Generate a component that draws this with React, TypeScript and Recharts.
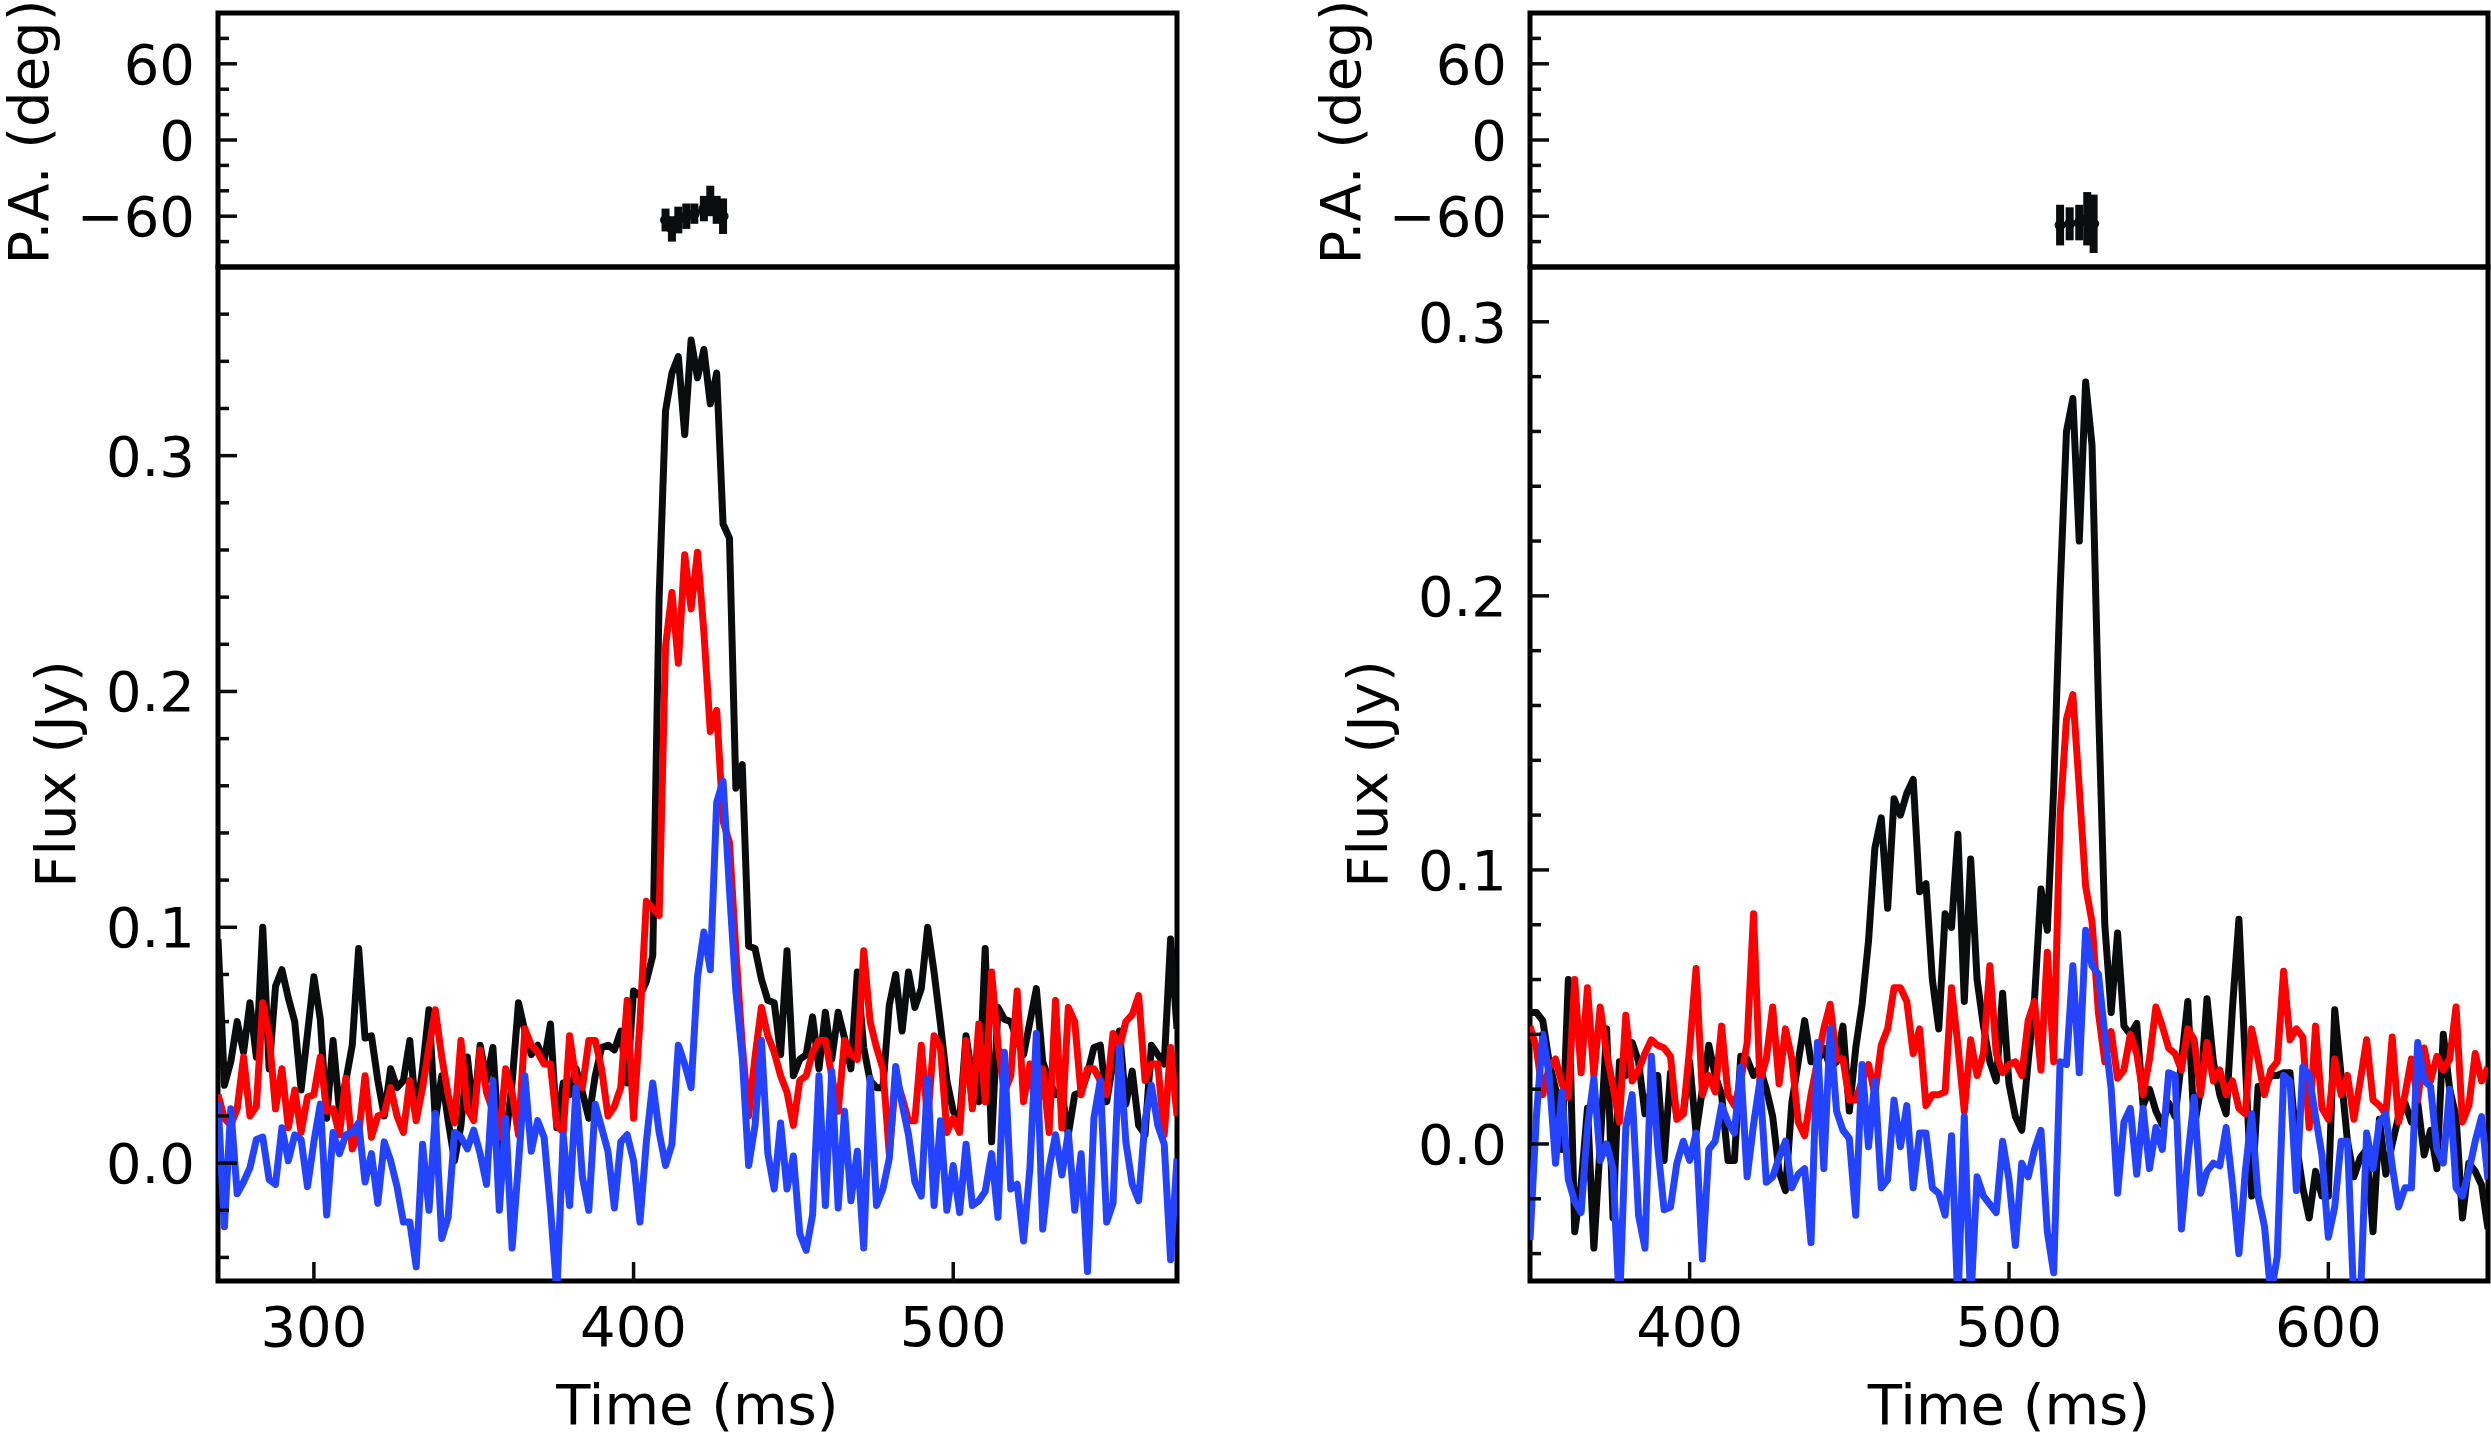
import React from "react";
import { LineChart, Line, XAxis, YAxis, ReferenceArea, ErrorBar } from "recharts";

const FONT = "DejaVu Sans";
const FS = 56;
const INK = "#0b0c0e";
const RED = "#ff0000";
const BLUE = "#2443ff";

// page layout (pixels)
const PAGE_W = 2491;
const PAGE_H = 1432;
const TOP_Y = 13;
const MID_Y = 267;
const BOT_Y = 1281;
const AXIS_W = 250;
const LEFT_X = [218, 1177];
const RIGHT_X = [1530, 2488];

// time grid: one sample every 2 ms
const STEP = 2;
const LEFT_START = 270;
const RIGHT_START = 350;

// ---------- left burst (flux, Jy) ----------
const leftTotal = [
  0.095, 0.033, 0.043, 0.060, 0.047, 0.068, 0.045, 0.100, 0.040, 0.075,
  0.082, 0.070, 0.060, 0.031, 0.055, 0.079, 0.061, 0.019, 0.052, 0.022,
  0.035, 0.050, 0.091, 0.053, 0.054, 0.035, 0.020, 0.040, 0.032, 0.035,
  0.052, 0.020, 0.040, 0.065, 0.018, 0.037, 0.018, 0.001, 0.016, 0.045,
  0.020, 0.050, 0.035, 0.049, 0.006, 0.010, 0.034, 0.068, 0.056, 0.046,
  0.050, 0.043, 0.059, 0.015, 0.034, 0.029, 0.040, 0.030, 0.019, 0.037,
  0.049, 0.050, 0.048, 0.056, 0.034, 0.073, 0.071, 0.077, 0.088, 0.240,
  0.319, 0.335, 0.342, 0.309, 0.349, 0.333, 0.345, 0.322, 0.335, 0.271,
  0.265, 0.159, 0.169, 0.092, 0.091, 0.078, 0.069, 0.068, 0.046, 0.090,
  0.037, 0.044, 0.046, 0.062, 0.040, 0.064, 0.044, 0.064, 0.053, 0.040,
  0.081, 0.049, 0.035, 0.032, 0.032, 0.067, 0.080, 0.056, 0.081, 0.066,
  0.074, 0.100, 0.081, 0.059, 0.035, 0.022, 0.018, 0.054, 0.036, 0.026,
  0.091, 0.009, 0.066, 0.061, 0.060, 0.052, 0.046, 0.060, 0.074, 0.043,
  0.035, 0.029, 0.030, 0.012, 0.029, 0.030, 0.038, 0.049, 0.050, 0.026,
  0.043, 0.056, 0.025, 0.039, 0.016, 0.012, 0.050, 0.046, 0.042, 0.095,
  0.057,
];
const leftLinear = [
  0.029, 0.019, 0.016, 0.023, 0.045, 0.020, 0.024, 0.068, 0.054, 0.023,
  0.040, 0.015, 0.031, 0.013, 0.028, 0.029, 0.045, 0.022, 0.023, 0.012,
  0.036, 0.006, 0.012, 0.037, 0.011, 0.020, 0.021, 0.032, 0.020, 0.013,
  0.035, 0.018, 0.032, 0.049, 0.065, 0.045, 0.029, 0.017, 0.052, 0.023,
  0.018, 0.048, 0.030, 0.022, 0.011, 0.040, 0.030, 0.012, 0.057, 0.050,
  0.047, 0.042, 0.042, 0.016, 0.013, 0.054, 0.035, 0.032, 0.052, 0.052,
  0.040, 0.020, 0.024, 0.032, 0.069, 0.019, 0.060, 0.111, 0.108, 0.105,
  0.219, 0.242, 0.212, 0.258, 0.235, 0.259, 0.225, 0.183, 0.192, 0.145,
  0.136, 0.090, 0.050, 0.020, 0.045, 0.066, 0.054, 0.047, 0.037, 0.030,
  0.016, 0.035, 0.037, 0.047, 0.052, 0.052, 0.037, 0.022, 0.052, 0.046,
  0.044, 0.090, 0.060, 0.049, 0.040, 0.004, 0.036, 0.028, 0.018, 0.018,
  0.050, 0.018, 0.054, 0.049, 0.013, 0.019, 0.013, 0.052, 0.023, 0.059,
  0.026, 0.081, 0.050, 0.030, 0.037, 0.073, 0.026, 0.042, 0.020, 0.040,
  0.013, 0.069, 0.015, 0.066, 0.060, 0.029, 0.040, 0.040, 0.035, 0.029,
  0.055, 0.049, 0.060, 0.063, 0.071, 0.035, 0.042, 0.042, 0.012, 0.049,
  0.020,
];
const leftCircular = [
  0.026, -0.027, 0.023, -0.013, -0.008, -0.002, 0.010, 0.011, -0.007, -0.009,
  0.015, 0.001, 0.012, 0.010, -0.010, 0.009, 0.025, -0.022, 0.013, 0.004,
  0.012, 0.013, 0.017, -0.008, 0.004, -0.017, 0.009, 0.001, -0.010, -0.025,
  -0.025, -0.044, 0.008, -0.020, 0.021, -0.032, -0.023, 0.013, 0.011, 0.006,
  0.014, 0.004, -0.009, 0.035, -0.020, 0.019, -0.036, 0.000, 0.037, 0.005,
  0.018, 0.011, -0.019, -0.055, 0.012, -0.018, 0.032, -0.006, -0.020, 0.025,
  0.015, 0.005, -0.019, 0.009, 0.012, 0.001, -0.025, 0.009, 0.034, 0.013,
  -0.001, 0.008, 0.050, 0.042, 0.032, 0.079, 0.098, 0.082, 0.153, 0.162,
  0.116, 0.073, 0.045, -0.001, 0.016,
  0.052, 0.004, -0.011, 0.017, -0.011, 0.003, -0.030, -0.037, -0.022, 0.037,
  -0.018, 0.039, -0.019, 0.022, -0.016, 0.005, -0.036, 0.036, -0.018, -0.011,
  0.002, 0.041, 0.025, 0.012, -0.008, -0.014, 0.036, -0.018, 0.018, -0.020,
  -0.001, -0.021, 0.008, -0.018, -0.016, -0.012, 0.004, -0.023, 0.047, -0.011,
  -0.009, -0.033, -0.002, 0.055, -0.028, -0.002, 0.012, -0.005, 0.013, -0.020,
  0.004, -0.046, 0.019, 0.035, -0.025, -0.017, 0.049, 0.009, -0.009, -0.016,
  0.018, 0.033, 0.016, 0.008, -0.041, 0.002,
];

// ---------- right burst (flux, Jy) ----------
const rightTotal = [
  0.048, 0.048, 0.045, 0.030, 0.020, -0.002, 0.060, -0.032, -0.015, 0.013,
  -0.038, 0.000, 0.042, -0.027, 0.030, 0.025, 0.037, 0.030, 0.011, 0.020,
  0.025, -0.006, 0.026, 0.010, 0.011, 0.030, 0.004, 0.020, 0.036, 0.025,
  0.018, -0.006, -0.006, 0.032, 0.031, 0.025, 0.028, 0.020, 0.010, -0.010,
  -0.017, 0.015, 0.030, 0.045, 0.030, 0.030, 0.035, 0.028, 0.030, 0.043,
  0.012, 0.035, 0.051, 0.074, 0.108, 0.119, 0.086, 0.126, 0.120, 0.128,
  0.133, 0.092, 0.095, 0.060, 0.042, 0.084, 0.079, 0.113, 0.052, 0.104,
  0.060, 0.043, 0.030, 0.023, 0.055, 0.022, 0.010, 0.005, 0.030, 0.053,
  0.093, 0.078, 0.130, 0.202, 0.260, 0.272, 0.220, 0.278, 0.255, 0.161,
  0.080, 0.048, 0.077, 0.043, 0.040, 0.044, 0.014, 0.020, 0.012, 0.007,
  0.015, 0.010, 0.030, 0.052, 0.006, 0.020, 0.053, 0.030, 0.018, 0.011,
  0.050, 0.082, 0.030, -0.019, 0.021, 0.021, 0.025, 0.025, 0.026, 0.026,
  0.000, -0.016, -0.027, -0.010, -0.019, -0.019, 0.049, 0.025, 0.001, -0.012,
  -0.005, -0.002, -0.032, 0.009, -0.011, 0.000, 0.010, 0.015, 0.008, 0.015,
  -0.004, 0.005, -0.009, 0.040, 0.020, 0.010, -0.027, -0.007, -0.010, -0.015,
  -0.031,
];
const rightLinear = [
  0.043, 0.035, 0.018, 0.028, 0.031, 0.022, 0.017, 0.060, 0.026, 0.057,
  0.025, 0.050, 0.033, 0.021, 0.008, 0.047, 0.023, 0.027, 0.033, 0.038,
  0.036, 0.035, 0.032, 0.009, 0.011, 0.035, 0.064, 0.018, 0.025, 0.019,
  0.043, 0.018, 0.014, 0.023, 0.037, 0.084, 0.023, 0.031, 0.050, 0.022,
  0.042, 0.031, 0.008, 0.003, 0.018, 0.030, 0.042, 0.051, 0.031, 0.031,
  0.016, 0.016, 0.023, 0.029, 0.018, 0.036, 0.042, 0.057, 0.057, 0.052,
  0.033, 0.042, 0.014, 0.018, 0.018, 0.019, 0.057, 0.036, 0.012, 0.038,
  0.025, 0.033, 0.065, 0.033, 0.026, 0.029, 0.030, 0.025, 0.045, 0.052,
  0.027, 0.070, 0.030, 0.120, 0.155, 0.164, 0.130, 0.094, 0.081, 0.048,
  0.030, 0.041, 0.024, 0.027, 0.040, 0.033, 0.018, 0.031, 0.050, 0.043,
  0.035, 0.033, 0.027, 0.042, 0.038, 0.018, 0.037, 0.023, 0.027, 0.018,
  0.023, 0.013, 0.011, 0.042, 0.031, 0.018, 0.027, 0.030, 0.063, 0.038,
  0.042, 0.039, 0.006, 0.043, 0.013, 0.009, 0.031, 0.018, 0.025, 0.009,
  0.023, 0.038, 0.016, 0.014, 0.011, 0.039, 0.008, 0.018, 0.031, 0.016,
  0.035, 0.023, 0.032, 0.027, 0.031, 0.050, 0.008, 0.014, 0.033, 0.023,
  0.028,
];
const rightCircular = [
  -0.035, 0.010, 0.040, 0.025, -0.007, 0.019, -0.013, -0.021, -0.025, 0.006,
  0.024, -0.006, 0.000, -0.009, -0.060, 0.006, 0.018, -0.026, -0.038, 0.032,
  -0.001, -0.024, -0.023, -0.007, 0.001, -0.006, 0.004, -0.042, -0.002, 0.001,
  0.014, 0.008, 0.004, 0.028, -0.012, 0.007, 0.023, -0.014, -0.012, -0.005,
  0.001, -0.016, -0.011, -0.009, -0.036, 0.037, -0.009, 0.042, 0.012, 0.005,
  0.002, -0.026, 0.029, -0.001, 0.023, -0.016, -0.013, 0.016, -0.001, 0.014,
  -0.016, 0.004, 0.004, -0.016, -0.018, -0.026, 0.003, -0.058, 0.010, -0.058,
  -0.012, -0.019, -0.022, -0.025, 0.001, -0.013, -0.037, -0.007, -0.012, -0.002,
  0.005, -0.032, -0.047, 0.030, 0.029, 0.065, 0.026, 0.078, 0.065, 0.062,
  0.040, 0.020, -0.018, 0.008, 0.013, -0.011, 0.013, -0.009, 0.006, -0.002,
  0.026, 0.025, -0.031, -0.005, 0.017, -0.018, -0.010, -0.007, -0.008, 0.006,
  -0.015, -0.040, -0.010, 0.011, -0.019, -0.030, -0.055, -0.041, 0.025, 0.023,
  -0.017, 0.028, 0.025, 0.010, -0.004, -0.034, -0.023, 0.001, 0.001, -0.058,
  -0.058, 0.004, -0.009, 0.008, 0.011, -0.008, -0.023, -0.016, -0.016, 0.037,
  0.023, 0.021, -0.002, -0.007, 0.020, -0.016, -0.019, -0.010, 0.001, 0.010,
  -0.013,
];

// ---------- polarisation angle (deg) ----------
const leftPaTime = [410, 412, 414, 416.5, 419, 422, 424, 426, 428];
const leftPa = [-63, -70, -63, -60, -58, -54, -48, -55, -60];
const leftPaErr = [9, 10, 10.5, 10, 8, 10, 12, 11, 14];
const rightPaTime = [516, 519, 522, 524.5, 526.5];
const rightPa = [-67, -66, -65, -62, -66];
const rightPaErr = [16, 13, 14, 21, 23];

// ---------- ticks ----------
const leftTimeTicks = [300, 400, 500];
const rightTimeTicks = [400, 500, 600];
const paTicks = [-80, -60, -40, -20, 0, 20, 40, 60, 80];
const leftFluxTicks = [
  -0.04, -0.02, 0, 0.02, 0.04, 0.06, 0.08, 0.1, 0.12, 0.14, 0.16,
  0.18, 0.2, 0.22, 0.24, 0.26, 0.28, 0.3, 0.32, 0.34, 0.36,
];
const rightFluxTicks = [
  -0.04, -0.02, 0, 0.02, 0.04, 0.06, 0.08, 0.1, 0.12, 0.14, 0.16,
  0.18, 0.2, 0.22, 0.24, 0.26, 0.28, 0.3,
];

const timeGrid = (start: number, n: number) => Array.from({ length: n }, (_, i) => start + STEP * i);

const fluxRows = (start: number, I: number[], L: number[], V: number[]) =>
  timeGrid(start, I.length).map((t, i) => ({ t, I: I[i], L: L[i], V: V[i] }));

const paRows = (T: number[], pa: number[], err: number[]) =>
  T.map((t, i) => ({ t, pa: pa[i], err: err[i] }));

const isFluxMajor = (v: number) => Math.abs(v * 10 - Math.round(v * 10)) < 1e-6;
const fmtFlux = (v: number) => v.toFixed(1);
const isPaMajor = (v: number) => v % 60 === 0;
const fmtPa = (v: number) => (v < 0 ? "\u2212" + Math.abs(v) : String(v));

const textStyle = { fontFamily: FONT, fontSize: FS, fill: "#000" };

// inward ticks on the left axis, labels on majors only
const yTick = (isMajor: (v: number) => boolean, fmt: (v: number) => string) => (props: any) => {
  const { x, y, payload } = props;
  const major = isMajor(payload.value);
  return (
    <g>
      <line x1={x} x2={x + (major ? 19 : 11)} y1={y} y2={y} stroke={INK} strokeWidth={3.5} />
      {major && (
        <text x={x - 23} y={y + 20} textAnchor="end" {...textStyle}>
          {fmt(payload.value)}
        </text>
      )}
    </g>
  );
};

const xTick = (withLabel: boolean) => (props: any) => {
  const { x, y, payload } = props;
  return (
    <g>
      <line x1={x} x2={x} y1={y} y2={y - 19} stroke={INK} strokeWidth={3.5} />
      {withLabel && (
        <text x={x} y={y + 65} textAnchor="middle" {...textStyle}>
          {payload.value}
        </text>
      )}
    </g>
  );
};

interface ColumnProps {
  x0: number;
  x1: number;
  rightPad: number;
  xDomain: [number, number];
  xTicks: number[];
  yDomain: [number, number];
  yTicks: number[];
  rows: { t: number; I: number; L: number; V: number }[];
  pa: { t: number; pa: number; err: number }[];
}

function Column({ x0, x1, rightPad, xDomain, xTicks, yDomain, yTicks, rows, pa }: ColumnProps) {
  const left = x0 - AXIS_W;
  const width = AXIS_W + (x1 - x0) + rightPad;
  const paH = MID_Y + 20;
  const fluxTop = MID_Y - 10;
  const fluxH = PAGE_H - fluxTop;
  const xAxisH = PAGE_H - BOT_Y;

  return (
    <>
      <div style={{ position: "absolute", left, top: 0 }}>
        <LineChart width={width} height={paH} data={pa} margin={{ top: TOP_Y, right: rightPad, bottom: 20, left: 0 }}>
          <XAxis
            type="number"
            dataKey="t"
            domain={xDomain}
            ticks={xTicks}
            interval={0}
            allowDataOverflow
            height={0}
            axisLine={false}
            tickLine={false}
            tickSize={0}
            tickMargin={0}
            tick={xTick(false)}
          />
          <YAxis
            type="number"
            domain={[-100, 100]}
            ticks={paTicks}
            interval={0}
            allowDataOverflow
            width={AXIS_W}
            axisLine={false}
            tickLine={false}
            tickSize={0}
            tickMargin={0}
            tick={yTick(isPaMajor, fmtPa)}
          />
          <Line
            type="linear"
            dataKey="pa"
            stroke={INK}
            strokeWidth={4}
            dot={{ r: 5, fill: INK, stroke: INK, strokeWidth: 1 }}
            isAnimationActive={false}
          >
            <ErrorBar dataKey="err" direction="y" width={0} stroke={INK} strokeWidth={8} isAnimationActive={false} />
          </Line>
          <ReferenceArea
            x1={xDomain[0]}
            x2={xDomain[1]}
            y1={-100}
            y2={100}
            fill="none"
            stroke="#000"
            strokeWidth={5}
            ifOverflow="visible"
          />
        </LineChart>
      </div>

      <div style={{ position: "absolute", left, top: fluxTop }}>
        <LineChart width={width} height={fluxH} data={rows} margin={{ top: 10, right: rightPad, bottom: 0, left: 0 }}>
          <XAxis
            type="number"
            dataKey="t"
            domain={xDomain}
            ticks={xTicks}
            interval={0}
            allowDataOverflow
            height={xAxisH}
            axisLine={false}
            tickLine={false}
            tickSize={0}
            tickMargin={0}
            tick={xTick(true)}
          />
          <YAxis
            type="number"
            domain={yDomain}
            ticks={yTicks}
            interval={0}
            allowDataOverflow
            width={AXIS_W}
            axisLine={false}
            tickLine={false}
            tickSize={0}
            tickMargin={0}
            tick={yTick(isFluxMajor, fmtFlux)}
          />
          <Line type="linear" dataKey="I" stroke={INK} strokeWidth={7} strokeLinejoin="round" dot={false} isAnimationActive={false} />
          <Line type="linear" dataKey="L" stroke={RED} strokeWidth={7} strokeLinejoin="round" dot={false} isAnimationActive={false} />
          <Line type="linear" dataKey="V" stroke={BLUE} strokeWidth={7} strokeLinejoin="round" dot={false} isAnimationActive={false} />
          <ReferenceArea
            x1={xDomain[0]}
            x2={xDomain[1]}
            y1={yDomain[0]}
            y2={yDomain[1]}
            fill="none"
            stroke="#000"
            strokeWidth={5}
            ifOverflow="visible"
          />
        </LineChart>
      </div>
    </>
  );
}

// axis titles, placed in page pixels
function Titles() {
  const cols = [LEFT_X, RIGHT_X];
  return (
    <svg width={PAGE_W} height={PAGE_H} style={{ position: "absolute", left: 0, top: 0, pointerEvents: "none" }}>
      {cols.map(([x0, x1], i) => {
        const mid = (MID_Y + BOT_Y) / 2;
        return (
          <g key={i}>
            <text x={x0 - 170} y={132} textAnchor="middle" transform={`rotate(-90 ${x0 - 170} 132)`} {...textStyle}>
              P.A. (deg)
            </text>
            <text x={x0 - 143} y={mid} textAnchor="middle" transform={`rotate(-90 ${x0 - 143} ${mid})`} {...textStyle}>
              Flux (Jy)
            </text>
            <text x={(x0 + x1) / 2} y={1424} textAnchor="middle" {...textStyle}>
              Time (ms)
            </text>
          </g>
        );
      })}
    </svg>
  );
}

export default function App() {
  return (
    <div
      style={{
        position: "absolute",
        left: 0,
        top: 0,
        width: PAGE_W,
        height: PAGE_H,
        overflow: "hidden",
        background: "#fff",
      }}
    >
      <Column
        x0={LEFT_X[0]}
        x1={LEFT_X[1]}
        rightPad={20}
        xDomain={[270, 570]}
        xTicks={leftTimeTicks}
        yDomain={[-0.05, 0.38]}
        yTicks={leftFluxTicks}
        rows={fluxRows(LEFT_START, leftTotal, leftLinear, leftCircular)}
        pa={paRows(leftPaTime, leftPa, leftPaErr)}
      />
      <Column
        x0={RIGHT_X[0]}
        x1={RIGHT_X[1]}
        rightPad={3}
        xDomain={[350, 650]}
        xTicks={rightTimeTicks}
        yDomain={[-0.05, 0.32]}
        yTicks={rightFluxTicks}
        rows={fluxRows(RIGHT_START, rightTotal, rightLinear, rightCircular)}
        pa={paRows(rightPaTime, rightPa, rightPaErr)}
      />
      <Titles />
    </div>
  );
}
